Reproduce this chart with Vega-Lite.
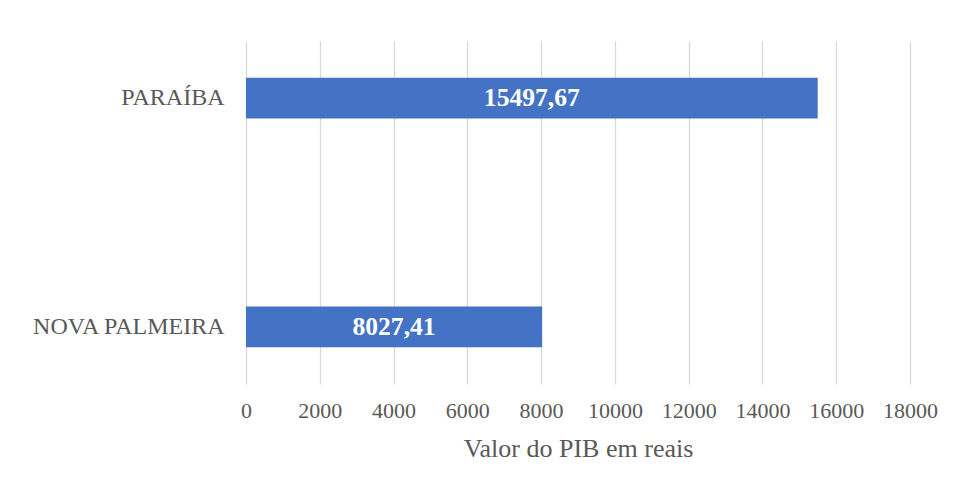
{
  "$schema": "https://vega.github.io/schema/vega-lite/v6.json",
  "autosize": {"type": "none"},
  "padding": {"left": 246, "top": 41, "right": 47, "bottom": 106},
  "width": 664,
  "height": 343,
  "data": {"values": [
    {"local": "PARAÍBA", "valor": 15497.67},
    {"local": "NOVA PALMEIRA", "valor": 8027.41}
  ]},
  "layer": [
    {
      "mark": {"type": "bar", "color": "#4472C4"},
      "encoding": {
        "y": {"field": "local", "type": "nominal", "sort": null, "title": null,
          "scale": {"paddingInner": 0.8225, "paddingOuter": 0.161},
          "axis": {"domain": false, "ticks": false, "labelPadding": 22, "labelLimit": 0, "labelFont": "Liberation Serif", "labelFontSize": 24, "labelColor": "#595959"}},
        "x": {"field": "valor", "type": "quantitative", "title": "Valor do PIB em reais",
          "scale": {"domain": [0, 18000], "nice": false},
          "axis": {"values": [0, 2000, 4000, 6000, 8000, 10000, 12000, 14000, 16000, 18000], "format": "d",
            "domain": false, "ticks": false, "grid": true, "gridColor": "#D9D9D9", "gridWidth": 1.3,
            "labelOverlap": false, "labelFlush": false, "labelBound": false,
            "labelPadding": 16, "labelFont": "Liberation Serif", "labelFontSize": 22, "labelColor": "#595959",
            "titleFont": "Liberation Serif", "titleFontSize": 26, "titleFontWeight": "normal", "titleColor": "#595959", "titlePadding": 14}}
      }
    },
    {
      "mark": {"type": "text", "color": "#FFFFFF", "font": "Liberation Serif", "fontSize": 25.6, "fontWeight": "bold", "baseline": "middle", "align": "center"},
      "encoding": {
        "y": {"field": "local", "type": "nominal", "sort": null},
        "x": {"field": "valor", "type": "quantitative", "scale": {"domain": [0, 36000], "nice": false}, "axis": null},
        "text": {"field": "valor", "type": "quantitative", "format": ".2f"}
      }
    }
  ],
  "resolve": {"scale": {"x": "independent"}},
  "config": {
    "view": {"stroke": null},
    "locale": {"number": {"decimal": ",", "thousands": ".", "grouping": [3], "currency": ["R$", ""]}}
  }
}
